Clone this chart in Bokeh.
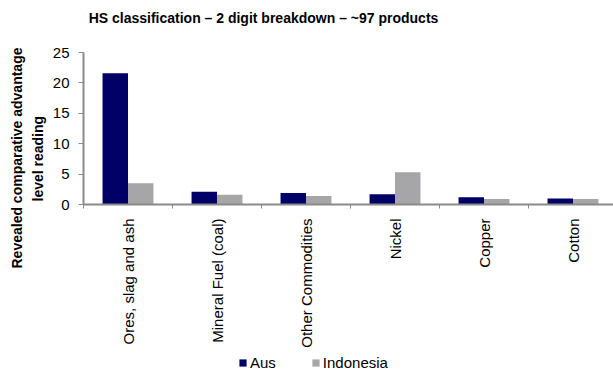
import math
from bokeh.plotting import figure
from bokeh.layouts import column
from bokeh.models import (ColumnDataSource, FixedTicker, Label, Legend, LegendItem, Title)
from bokeh.embed import file_html
from bokeh.resources import INLINE

# Revealed comparative advantage by HS 2-digit product group
categories = ["Ores, slag and ash", "Mineral Fuel (coal)", "Other Commodities",
              "Nickel", "Copper", "Cotton"]
aus = [21.6, 2.1, 1.9, 1.7, 1.2, 1.0]
indonesia = [3.5, 1.6, 1.4, 5.3, 0.9, 0.9]
y_ticks = [0, 5, 10, 15, 20, 25]
series_names = ["Aus", "Indonesia"]

AUS_COLOR = "#000066"
IDN_COLOR = "#a6a6a8"
AXIS_COLOR = "#8a8a8a"
FONT = "Liberation Sans"
W = 613
LEFT = 83   # left border of the chart frame; the column aligns all frames to it


def strip(fig):
    """Blank figure used as a plain drawing strip (no axes, no border)."""
    fig.outline_line_color = None
    fig.min_border_left = fig.min_border_right = 0
    fig.min_border_top = fig.min_border_bottom = 0
    fig.xgrid.grid_line_color = None
    fig.ygrid.grid_line_color = None
    return fig


# --- title strip (x in page pixels) ----------------------------------------
title_fig = strip(figure(width=W, height=34, output_backend="svg", toolbar_location=None,
                         x_range=(LEFT, W), y_range=(0, 34),
                         x_axis_type=None, y_axis_type=None))
title_fig.add_layout(Label(x=263, y=17,
                           text="HS classification \u2013 2 digit breakdown \u2013 ~97 products",
                           text_font=FONT, text_font_size="14px", text_font_style="bold",
                           text_align="center", text_baseline="middle", text_color="black"))

# --- main chart --------------------------------------------------------------
n = len(categories)
centers = [i + 0.5 for i in range(n)]
offset = 0.143
bar_w = 0.286

src = ColumnDataSource(dict(
    x_aus=[c - offset for c in centers],
    x_idn=[c + offset for c in centers],
    aus=aus,
    idn=indonesia,
))

p = figure(width=W, height=321, output_backend="svg", toolbar_location=None,
           x_range=(0, 5.955), y_range=(0, 25),
           min_border_left=LEFT, min_border_right=0, min_border_top=18,
           min_border_bottom=151)
p.outline_line_color = None
p.xgrid.grid_line_color = None
p.ygrid.grid_line_color = None

p.vbar(x="x_aus", top="aus", width=bar_w, source=src,
       fill_color=AUS_COLOR, line_color=None)
p.vbar(x="x_idn", top="idn", width=bar_w, source=src,
       fill_color=IDN_COLOR, line_color=None)

# x axis: labels at category centres, small ticks on category boundaries
xa = p.xaxis[0]
xa.ticker = FixedTicker(ticks=centers, minor_ticks=list(range(n + 1)))
xa.major_label_overrides = {c: name for c, name in zip(centers, categories)}
xa.major_label_orientation = math.pi / 2
xa.major_tick_out = 0
xa.major_tick_in = 0
xa.minor_tick_out = 4
xa.minor_tick_in = 0
xa.minor_tick_line_color = AXIS_COLOR
xa.axis_line_color = AXIS_COLOR
xa.axis_line_width = 2
xa.major_label_standoff = 10
xa.major_label_text_font = FONT
xa.major_label_text_font_size = "15px"
xa.major_label_text_color = "black"

ya = p.yaxis[0]
ya.ticker = FixedTicker(ticks=y_ticks)
ya.major_tick_out = 5
ya.major_tick_in = 0
ya.minor_tick_out = 0
ya.minor_tick_in = 0
ya.major_tick_line_color = AXIS_COLOR
ya.axis_line_color = AXIS_COLOR
ya.axis_line_width = 2
ya.major_label_standoff = 9
ya.major_label_text_font = FONT
ya.major_label_text_font_size = "15px"
ya.major_label_text_color = "black"

# two-line y-axis caption (inner line first, nearest the axis)
p.add_layout(Title(text="level reading", text_font=FONT, text_font_size="14px",
                   text_font_style="bold", text_color="black",
                   align="left", offset=3, standoff=8), "left")
p.add_layout(Title(text="Revealed comparative advantage", text_font=FONT,
                   text_font_size="14px", text_font_style="bold", text_color="black",
                   align="left", offset=-64, standoff=-2), "left")

# --- legend strip ----------------------------------------------------------
leg_fig = strip(figure(width=W, height=16, output_backend="svg", toolbar_location=None,
                       x_range=(0, 1), y_range=(0, 1),
                       x_axis_type=None, y_axis_type=None))
# zero-height swatch proxies that carry the series colours into the legend
proxy = ColumnDataSource(dict(x=[0.5], top=[0]))
l_aus = leg_fig.vbar(x="x", top="top", width=0.1, source=proxy,
                     fill_color=AUS_COLOR, line_color=None)
l_idn = leg_fig.vbar(x="x", top="top", width=0.1, source=proxy,
                     fill_color=IDN_COLOR, line_color=None)
legend = Legend(items=[LegendItem(label=series_names[0], renderers=[l_aus]),
                       LegendItem(label=series_names[1], renderers=[l_idn])],
                orientation="horizontal", location=(238 - LEFT, 0),
                glyph_width=9, glyph_height=9, label_standoff=3, spacing=35,
                label_height=15, label_text_font=FONT, label_text_font_size="15px",
                label_text_color="black", padding=0, margin=0,
                border_line_color=None, background_fill_alpha=0)
leg_fig.add_layout(legend, "center")

layout = column(title_fig, p, leg_fig, spacing=0)
open("out.html", "w").write(file_html(layout, INLINE))
